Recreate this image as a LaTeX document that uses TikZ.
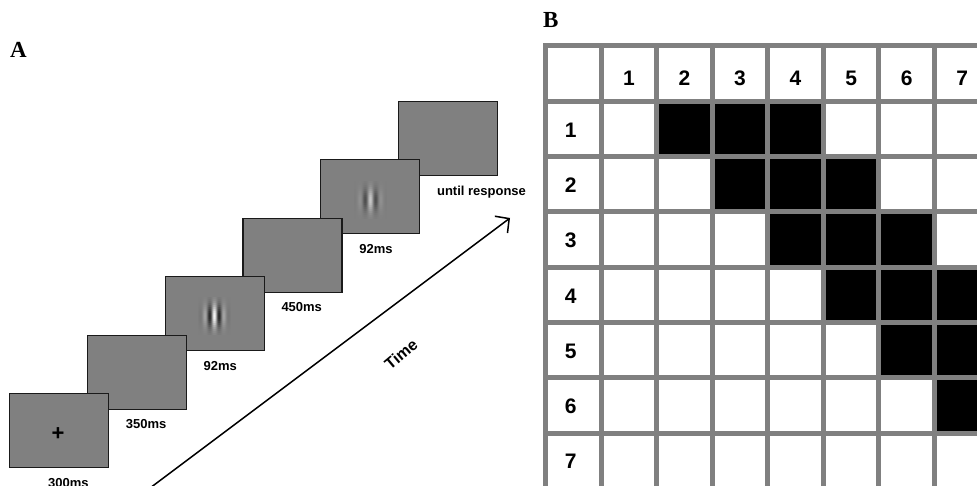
\documentclass[tikz,border=0pt]{standalone}
\usepackage{fontspec}
\setmainfont{Liberation Serif}
\setsansfont{Liberation Sans}
\usepackage{tikz}
\usetikzlibrary{
  arrows.meta,
  positioning,
  calc
}
\definecolor{frGray}{HTML}{808080}
\definecolor{frEdge}{HTML}{1A1A1A}
\definecolor{grLine}{HTML}{808080}
\tikzset{
  frame/.style={
    draw=frEdge, fill=frGray, line width=1.2pt, inner sep=0pt,
    minimum width=99pt, minimum height=74pt
  },
  dur/.style={font=\sffamily\bfseries\fontsize{13}{15}\selectfont, anchor=base west, inner sep=0pt},
  panel/.style={font=\rmfamily\bfseries\fontsize{23}{26}\selectfont, anchor=base west, inner sep=0pt},
  timeline/.style={-{Straight Barb[length=10pt, width=21pt]}, line width=1.5pt},
  cellnum/.style={font=\sffamily\bfseries\fontsize{21}{24}\selectfont, inner sep=0pt},
  gridline/.style={draw=grLine, line width=5pt, line cap=rect},
  onset/.style={fill=black}
}
\newcommand{\gaborpatch}[3]{%
  \foreach \gx in {-16,...,16}
    \foreach \gy in {-18,-16,...,18} {
      \pgfmathsetmacro\gw{50+#2*cos(#3*\gx)*exp(-((\gx)*(\gx))/80-((\gy)*(\gy))/120)}
      \fill[white!\gw!black] ($(#1)+(\gx-0.6,\gy-1.1)$) rectangle ++(1.2,2.2);
    }
}

\begin{document}
\begin{tikzpicture}[x=1pt, y=-1pt]
  \useasboundingbox (0,0) rectangle (977,486);
  \clip (0,0) rectangle (977,486);

  \node[panel] (labA) at (10,58) {A};
  \node[panel] (labB) at (543,28) {B};

  \foreach \i in {6,...,1}
    \node[frame] (f\i) at ({59+77.8*(\i-1)}, {430.5-58.4*(\i-1)}) {};

  \node[font=\sffamily\bfseries\fontsize{22}{22}\selectfont, inner sep=0pt] (fix) at ($(f1)+(-1,4)$) {+};
  \coordinate (g3) at ($(f3)+(0,2)$);
  \coordinate (g5) at ($(f5)+(0,3)$);
  \gaborpatch{g3}{46}{36}
  \gaborpatch{g5}{28}{32}

  \node[dur] (d1) at ($(f1.south west)+(39,19)$) {300ms};
  \node[dur] (d2) at ($(f2.south west)+(39,19)$) {350ms};
  \node[dur] (d3) at ($(f3.south west)+(39,19)$) {92ms};
  \node[dur] (d4) at ($(f4.south west)+(39,19)$) {450ms};
  \node[dur] (d5) at ($(f5.south west)+(39,19)$) {92ms};
  \node[dur] (d6) at ($(f6.south west)+(39,19)$) {until response};

  \coordinate (tstart) at (146,491);
  \coordinate (tend) at (510,218);
  \draw[timeline] (tstart) -- (tend);
  \node[font=\sffamily\bfseries\fontsize{16}{18}\selectfont, rotate=40] (time) at (401,354) {Time};

  \foreach \r/\c in {1/2,1/3,1/4,2/3,2/4,2/5,3/4,3/5,3/6,4/5,4/6,4/7,5/6,5/7,6/7}
    \fill[onset] ({545.5+55.57*\c},{46+55.29*\r}) rectangle ++(55.57,55.29);
  \foreach \i in {0,...,8} {
    \draw[gridline] ({545.5+55.57*\i},46) -- ++(0,{8*55.29});
    \draw[gridline] (545.5,{46+55.29*\i}) -- ++({8*55.57},0);
  }
  \foreach \k in {1,...,7} {
    \node[cellnum] (col\k) at ({545.5+55.57*(\k+0.5)},{46+55.29*0.5+4.5}) {\k};
    \node[cellnum] (row\k) at ({545.5+55.57*0.5-2.5},{46+55.29*(\k+0.5)+1}) {\k};
  }
\end{tikzpicture}
\end{document}
